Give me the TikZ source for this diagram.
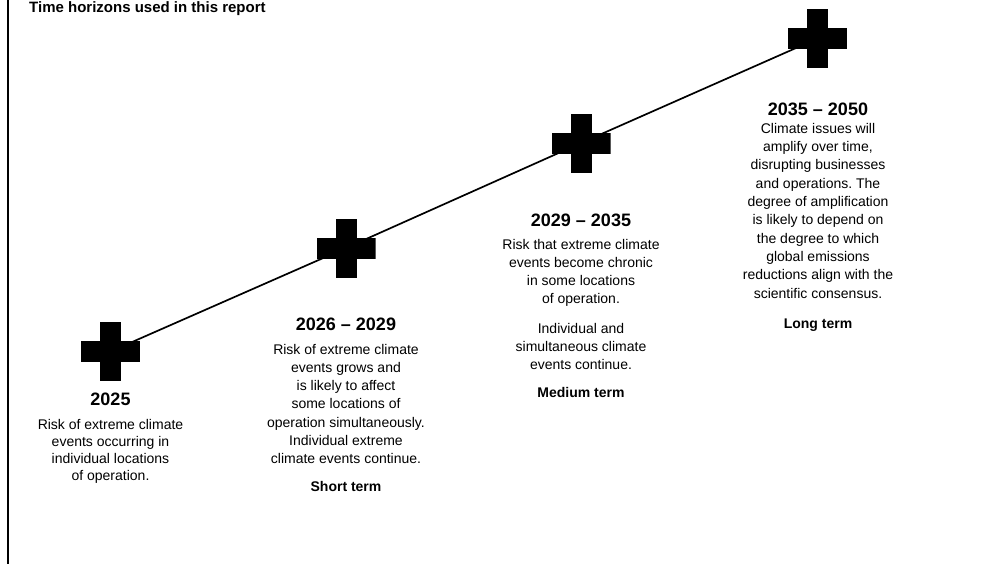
\documentclass[tikz,border=0pt]{standalone}
\usepackage{fontspec}
\setmainfont{Liberation Sans}
\frenchspacing
\begin{document}
\begin{tikzpicture}[x=1pt,y=-1pt,
  crossmark/.style={minimum size=59pt, inner sep=0pt, outer sep=0pt,
    path picture={
      \fill[black] ([xshift=-29.5pt,yshift=-10.5pt]path picture bounding box.center)
        rectangle ([xshift=29.5pt,yshift=10.5pt]path picture bounding box.center);
      \fill[black] ([xshift=-10.5pt,yshift=-29.5pt]path picture bounding box.center)
        rectangle ([xshift=10.5pt,yshift=29.5pt]path picture bounding box.center);
    }},
  heading/.style={anchor=base, inner sep=0pt, font=\bfseries\fontsize{18}{22}\selectfont},
  termlabel/.style={anchor=base, inner sep=0pt, font=\bfseries\fontsize{14}{17}\selectfont},
  desc/.style={anchor=base, inner sep=0pt, font=\fontsize{14}{18.3}\selectfont},
  descA/.style={anchor=base, inner sep=0pt, font=\fontsize{14}{17.2}\selectfont},
  timeline/.style={line width=1.7pt, black}
]
\fill[white] (0,0) rectangle (986,563);
\useasboundingbox (0,0) rectangle (986,563);

% left rule and title
\draw[line width=2pt] (7.5,-5) -- (7.5,570);
\node[anchor=base west, inner sep=0pt, font=\bfseries\fontsize{15}{18}\selectfont] (title) at (29,12) {Time horizons used in this report};

% crosses
\node[crossmark] (c1) at (110.5,351.5) {};
\node[crossmark] (c2) at (346,248) {};
\node[crossmark] (c3) at (581,143) {};
\node[crossmark] (c4) at (817.5,38.5) {};

\draw[timeline] (c1.center) -- (c2.center);
\draw[timeline] (c2.center) -- (c3.center);
\draw[timeline] (c3.center) -- (c4.center);

% column 1
\node[heading] (h1) at (110.5,405.7) {2025};
\node[descA] (d1) at (110.5,429.3) {\begin{tabular}[t]{@{}c@{}}Risk of extreme climate\\ events occurring in\\ individual locations\\ of operation.\end{tabular}};

% column 2
\node[heading] (h2) at (346,330.7) {2026 – 2029};
\node[desc] (d2) at (346,354) {\begin{tabular}[t]{@{}c@{}}Risk of extreme climate\\ events grows and\\ is likely to affect\\ some locations of\\ operation simultaneously.\\ Individual extreme\\ climate events continue.\end{tabular}};
\node[termlabel] (t2) at (346,491.7) {Short term};

% column 3
\node[heading] (h3) at (581,226) {2029 – 2035};
\node[desc] (d3a) at (581,249) {\begin{tabular}[t]{@{}c@{}}Risk that extreme climate\\ events become chronic\\ in some locations\\ of operation.\end{tabular}};
\node[desc] (d3b) at (581,333.3) {\begin{tabular}[t]{@{}c@{}}Individual and\\ simultaneous climate\\ events continue.\end{tabular}};
\node[termlabel] (t3) at (581,397.7) {Medium term};

% column 4
\node[heading] (h4) at (818,115) {2035 – 2050};
\node[desc] (d4) at (818,133.3) {\begin{tabular}[t]{@{}c@{}}Climate issues will\\ amplify over time,\\ disrupting businesses\\ and operations. The\\ degree of amplification\\ is likely to depend on\\ the degree to which\\ global emissions\\ reductions align with the\\ scientific consensus.\end{tabular}};
\node[termlabel] (t4) at (818,328.3) {Long term};
\end{tikzpicture}
\end{document}
